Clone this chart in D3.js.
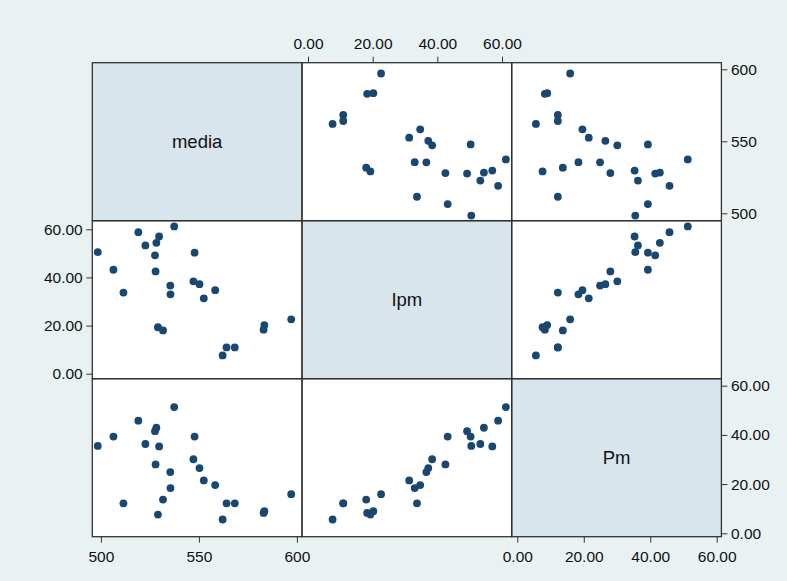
<!DOCTYPE html>
<html>
<head>
<meta charset="utf-8">
<script src="https://cdn.jsdelivr.net/npm/d3@7"></script>
<style>
  html, body { margin: 0; padding: 0; background: #eaf1f3; }
  svg { display: block; font-family: "Liberation Sans", Arial, sans-serif; }
</style>
</head>
<body>
<script>
// variables of the matrix, in diagonal order
const variables = ['media', 'Ipm', 'Pm'];

// one observation per index
const media = [498.4, 506.4, 511.5, 519.1, 522.7, 527.6, 528.3, 527.9, 529.7, 537.4,
  535.4, 535.5, 529.1, 531.7, 547.8, 547.2, 550.3, 552.5, 558.3, 562.1,
  564.1, 568.3, 583.0, 583.4, 597.1];
const ipm = [50.5, 43.2, 33.7, 58.8, 53.3, 49.2, 54.4, 42.5, 57.0, 61.2,
  36.6, 33.0, 19.3, 18.0, 50.3, 38.4, 37.2, 31.3, 34.7, 7.6,
  10.9, 10.9, 18.3, 20.2, 22.6];
const pm = [35.5, 39.3, 12.2, 45.8, 36.3, 41.5, 42.9, 28.0, 35.3, 51.3,
  24.9, 18.4, 7.6, 13.7, 39.3, 30.1, 26.5, 21.5, 19.6, 5.6,
  12.2, 12.2, 8.3, 9.0, 15.9];

const mediaTicks = [500, 550, 600];
const pctTicks = [0, 20, 40, 60];

const data = media.map((m, i) => ({ media: m, Ipm: ipm[i], Pm: pm[i] }));

const width = 787, height = 581;
const gridLeft = 92.3, gridTop = 62.7, pw = 209.7, ph = 158;

// horizontal and vertical scales, local to a panel
const xScales = {
  media: d3.scaleLinear().domain([500, 600]).range([8.6, 204.6]),
  Ipm: d3.scaleLinear().domain([0, 60]).range([6, 200]),
  Pm: d3.scaleLinear().domain([0, 60]).range([5.6, 205]),
};
const yScales = {
  media: d3.scaleLinear().domain([500, 600]).range([150.6, 6.6]),
  Ipm: d3.scaleLinear().domain([0, 60]).range([153, 8.6]),
  Pm: d3.scaleLinear().domain([0, 60]).range([154.6, 7]),
};
const ticks = { media: mediaTicks, Ipm: pctTicks, Pm: pctTicks };
const fmt = { media: d3.format('d'), Ipm: d3.format('.2f'), Pm: d3.format('.2f') };

const svg = d3.select('body').append('svg')
  .attr('width', width)
  .attr('height', height)
  .attr('viewBox', [0, 0, width, height]);

svg.append('rect').attr('width', width).attr('height', height).attr('fill', '#eaf1f3');

const grid = svg.append('g').attr('transform', `translate(${gridLeft} ${gridTop})`);

variables.forEach((rowVar, r) => {
  variables.forEach((colVar, c) => {
    const cell = grid.append('g')
      .attr('transform', `translate(${c * pw} ${r * ph})`);

    cell.append('rect')
      .attr('width', pw)
      .attr('height', ph)
      .attr('fill', r === c ? '#d9e5ec' : '#ffffff');

    if (r === c) {
      cell.append('text')
        .attr('x', pw / 2)
        .attr('y', ph / 2)
        .attr('dy', '0.35em')
        .attr('text-anchor', 'middle')
        .attr('font-size', 18.5)
        .attr('fill', '#111')
        .text(rowVar);
    } else {
      const x = xScales[colVar], y = yScales[rowVar];
      cell.append('g')
        .selectAll('circle')
        .data(data)
        .join('circle')
        .attr('cx', d => x(d[colVar]))
        .attr('cy', d => y(d[rowVar]))
        .attr('r', 3.9)
        .attr('fill', '#1a476f');
    }
  });
});

// panel borders on top of everything
variables.forEach((_, r) => {
  variables.forEach((_, c) => {
    grid.append('rect')
      .attr('x', c * pw)
      .attr('y', r * ph)
      .attr('width', pw)
      .attr('height', ph)
      .attr('fill', 'none')
      .attr('stroke', '#333')
      .attr('stroke-width', 1.3);
  });
});

function styleAxis(g) {
  g.select('.domain').remove();
  g.selectAll('.tick line').attr('stroke', '#333').attr('stroke-width', 1);
  g.selectAll('.tick text').attr('fill', '#111').attr('font-size', 15.5)
    .attr('font-family', '"Liberation Sans", Arial, sans-serif');
}

// top axis over column 2
grid.append('g')
  .attr('transform', `translate(${pw} 0)`)
  .call(d3.axisTop(xScales.Ipm).tickValues(ticks.Ipm).tickFormat(fmt.Ipm)
    .tickSize(6).tickPadding(7.4))
  .call(styleAxis);

// left axis beside row 2
grid.append('g')
  .attr('transform', `translate(0 ${ph})`)
  .call(d3.axisLeft(yScales.Ipm).tickValues(ticks.Ipm).tickFormat(fmt.Ipm)
    .tickSize(6).tickPadding(3.6))
  .call(styleAxis);

// right axes beside rows 1 and 3
grid.append('g')
  .attr('transform', `translate(${3 * pw} 0)`)
  .call(d3.axisRight(yScales.media).tickValues(ticks.media).tickFormat(fmt.media)
    .tickSize(6).tickPadding(3.6))
  .call(styleAxis);

grid.append('g')
  .attr('transform', `translate(${3 * pw} ${2 * ph})`)
  .call(d3.axisRight(yScales.Pm).tickValues(ticks.Pm).tickFormat(fmt.Pm)
    .tickSize(6).tickPadding(3.6))
  .call(styleAxis);

// bottom axes under columns 1 and 3
grid.append('g')
  .attr('transform', `translate(0 ${3 * ph})`)
  .call(d3.axisBottom(xScales.media).tickValues(ticks.media).tickFormat(fmt.media)
    .tickSize(6).tickPadding(8))
  .call(styleAxis);

grid.append('g')
  .attr('transform', `translate(${2 * pw} ${3 * ph})`)
  .call(d3.axisBottom(xScales.Pm).tickValues(ticks.Pm).tickFormat(fmt.Pm)
    .tickSize(6).tickPadding(8))
  .call(styleAxis);
</script>
</body>
</html>
